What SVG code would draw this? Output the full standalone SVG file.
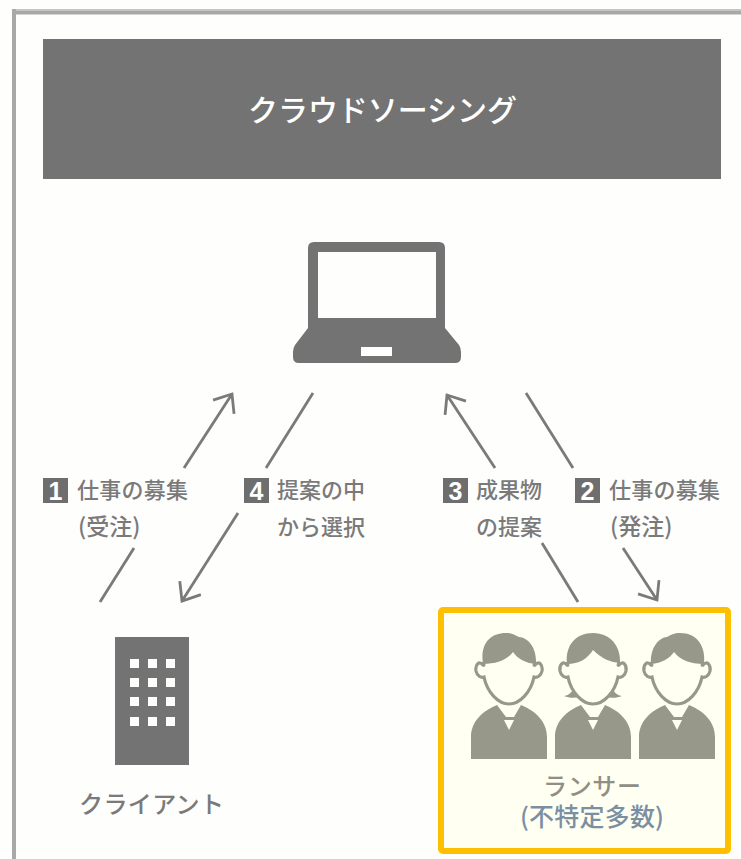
<svg xmlns="http://www.w3.org/2000/svg" width="741" height="859" viewBox="0 0 741 859">
<style>
text{font-family:"Noto Sans CJK JP","Noto Sans",sans-serif}
.lbl{font-size:22px;fill:#7a7a7a;font-weight:500}
.par{font-size:23px}
.num{font-size:25px;fill:#fff;font-weight:700;text-anchor:middle;font-family:"Liberation Sans",sans-serif}
.badge{fill:#6e6e6e}
.dark{fill:#737373}
.hole{fill:#fefefd}
.arrow{fill:none;stroke:#7a7a7a;stroke-width:2.800}
.skin{fill:#fffff2}
.tone{fill:#97978a}
</style>
<defs>
<marker id="head" markerUnits="userSpaceOnUse" viewBox="-20 -16 24 32" refX="0" refY="0" markerWidth="24" markerHeight="32" orient="auto" overflow="visible">
<path d="M-15.500 -12.500L0 0L-15.500 12.500" fill="none" stroke="#7a7a7a" stroke-width="2.800"/>
</marker>
<g id="person-body">
<path class="tone" d="M-38 759V737C-38 722 -27 711 -12 705L-3 717H5L12 705C27 711 38 722 38 737V759Z"/>
<path class="skin" d="M-5 720H5L0 730Z"/>
</g>
<path id="face" d="M-26 662C-26 664 -24 666 -26 665C-30 660 -34 665 -33 671C-32 676 -28 678 -25 677C-22 692 -11 704 0 704C11 704 22 692 25 677C28 678 32 676 33 671C34 665 30 660 26 665C24 666 26 664 26 662" fill="#fffff2" stroke="#97978a" stroke-width="3.200"/>
</defs>
<rect width="741" height="859" fill="#fefefd"/>
<g id="frame">
<rect x="12" y="9" width="729" height="2" fill="#c4c4c4"/>
<rect x="12" y="11" width="729" height="3.500" fill="#a8a8a8"/>
<rect x="12" y="9" width="4" height="850" fill="#a8a8a8"/>
</g>
<g id="header">
<rect class="dark" x="43" y="39" width="678" height="140"/>
<text x="382.500" y="121" font-size="30" fill="#fff" font-weight="500" text-anchor="middle" textLength="269">クラウドソーシング</text>
</g>
<g id="laptop">
<path class="dark" d="M314 242H439Q445 242 445 248V328L459 345Q461 348 461 352V357Q461 363 455 363H299Q293 363 293 357V352Q293 348 295 345L308 328V248Q308 242 314 242Z"/>
<rect class="hole" x="318" y="252" width="118" height="66"/>
<rect class="hole" x="361" y="347" width="31" height="9"/>
</g>
<g id="connectors">
<path class="arrow" d="M184 468L232 394" marker-end="url(#head)"/>
<path class="arrow" d="M134 548L100 602"/>
<path class="arrow" d="M313 393L266 468"/>
<path class="arrow" d="M238 513L182 601" marker-end="url(#head)"/>
<path class="arrow" d="M495 468L447 395" marker-end="url(#head)"/>
<path class="arrow" d="M542 543L578 602"/>
<path class="arrow" d="M526 393L573 468"/>
<path class="arrow" d="M623 548L657 600" marker-end="url(#head)"/>
</g>
<g id="label-1">
<rect class="badge" x="43" y="478" width="25" height="25"/>
<text class="num" x="55.500" y="499.500">1</text>
<text class="lbl" x="77" y="498" textLength="111">仕事の募集</text>
<text class="lbl par" x="78" y="535">(受注)</text>
</g>
<g id="label-4">
<rect class="badge" x="244" y="478" width="25" height="25"/>
<text class="num" x="256.500" y="499.500">4</text>
<text class="lbl" x="277" y="498" textLength="88">提案の中</text>
<text class="lbl" x="277" y="535" textLength="88">から選択</text>
</g>
<g id="label-3">
<rect class="badge" x="443" y="478" width="25" height="25"/>
<text class="num" x="455.500" y="499.500">3</text>
<text class="lbl" x="476" y="498" textLength="66">成果物</text>
<text class="lbl" x="476" y="535" textLength="66">の提案</text>
</g>
<g id="label-2">
<rect class="badge" x="575" y="478" width="25" height="25"/>
<text class="num" x="587.500" y="499.500">2</text>
<text class="lbl" x="609" y="498" textLength="111">仕事の募集</text>
<text class="lbl par" x="610" y="535">(発注)</text>
</g>
<g id="client">
<rect class="dark" x="115" y="637" width="74" height="128"/>
<g class="hole">
<rect x="130" y="659" width="9" height="9"/><rect x="148" y="659" width="9" height="9"/><rect x="166" y="659" width="9" height="9"/>
<rect x="130" y="678" width="9" height="9"/><rect x="148" y="678" width="9" height="9"/><rect x="166" y="678" width="9" height="9"/>
<rect x="130" y="697" width="9" height="9"/><rect x="148" y="697" width="9" height="9"/><rect x="166" y="697" width="9" height="9"/>
<rect x="130" y="717" width="9" height="9"/><rect x="148" y="717" width="9" height="9"/><rect x="166" y="717" width="9" height="9"/>
</g>
<text x="79" y="813" font-size="24" fill="#7a7a7a" font-weight="500" textLength="145">クライアント</text>
</g>
<g id="freelancers">
<rect x="441" y="610" width="287" height="241" rx="2" fill="#fffff2" stroke="#fdbf00" stroke-width="6"/>
<g id="person-1" transform="translate(509 0)">
<use href="#person-body"/><use href="#face"/>
<path class="tone" d="M-26 664C-29 645 -20 633 -3 633C4 633 7 636 10 637C21 638 28 650 27 664C16 663 9 659 4 652C-2 660 -12 664 -26 664Z"/>
</g>
<g id="person-2" transform="translate(593 0)">
<path class="tone" d="M-29 696C-22 695 -19 690 -19 682H19C19 690 22 695 29 696C22 699 14 698 8 695H-8C-14 698 -22 699 -29 696Z"/>
<use href="#person-body"/><use href="#face"/>
<path class="tone" d="M-26 664C-28 645 -17 633 0 633C18 633 28 647 27 663C16 662 8 658 0 650C-6 659 -14 664 -26 664Z"/>
</g>
<g id="person-3" transform="translate(677 0)">
<use href="#person-body"/><use href="#face"/>
<path class="tone" d="M-26 664C-27 650 -20 638 -10 637C-6 635 -3 633 3 633C20 633 29 646 27 664C13 664 3 660 -3 652C-8 659 -15 663 -26 664Z"/>
</g>
<text x="592" y="795" font-size="24" fill="#8f8f85" font-weight="500" text-anchor="middle" textLength="98">ランサー</text>
<text x="592" y="826" font-size="25" fill="#7b8fa3" font-weight="500" text-anchor="middle" textLength="144">(不特定多数)</text>
</g>
</svg>
